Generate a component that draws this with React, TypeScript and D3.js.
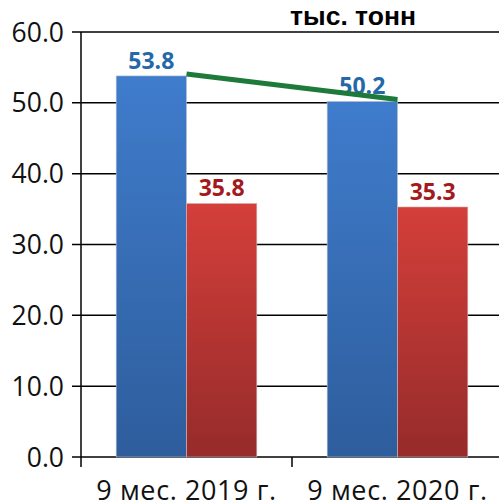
import React from "react";
import * as d3 from "d3";

const categories = ["9 мес. 2019 г.", "9 мес. 2020 г."];
const seriesNames = ["s1", "s2"];
const blueValues = [53.8, 50.2];
const redValues = [35.8, 35.3];
const yTicks = [0, 10, 20, 30, 40, 50, 60];
const unitLabel = "тыс. тонн";

const W = 499;
const H = 504;

export default function App() {
  const y = d3.scaleLinear().domain([0, 60]).range([457, 32]);
  const x = d3.scaleBand<string>().domain(categories).range([81, 503]).paddingInner(0).paddingOuter(0);
  const xi = d3.scaleBand<string>().domain(seriesNames).range([0, x.bandwidth()]).paddingInner(0).paddingOuter(0.5);
  const bw = xi.bandwidth();
  const font = "'Open Sans', 'DejaVu Sans', sans-serif";

  const linePts: [number, number][] = categories.map((c, i) => [
    (x(c) as number) + (xi("s1") as number) + bw,
    y(blueValues[i]) - 2,
  ]);
  const line = d3.line();

  return (
    <svg width={W} height={H} style={{ position: "absolute", left: 0, top: 0, background: "#fff" }}>
      <defs>
        <linearGradient id="gBlue" x1="0" y1="0" x2="0" y2="1">
          <stop offset="0" stopColor="#3f7ccc" />
          <stop offset="1" stopColor="#2e5d9c" />
        </linearGradient>
        <linearGradient id="gRed" x1="0" y1="0" x2="0" y2="1">
          <stop offset="0" stopColor="#d43f3a" />
          <stop offset="1" stopColor="#952b2a" />
        </linearGradient>
      </defs>
      {yTicks.map((t) => (
        <g key={t}>
          <line x1={72} x2={W} y1={y(t)} y2={y(t)} stroke="#000" strokeWidth={1.5} />
          <text x={64} y={y(t)} dy="0.36em" textAnchor="end" fontFamily={font} fontSize={26.5} fill="#111">
            {d3.format(".1f")(t)}
          </text>
        </g>
      ))}
      <line x1={81} x2={81} y1={y(60)} y2={467} stroke="#000" strokeWidth={1.5} />
      {categories.slice(1).map((c) => (
        <line key={c} x1={x(c) as number} x2={x(c) as number} y1={y(0)} y2={467} stroke="#000" strokeWidth={1.5} />
      ))}
      {categories.map((c, i) => {
        const x0 = x(c) as number;
        const bx = x0 + (xi("s1") as number);
        const rx = x0 + (xi("s2") as number);
        return (
          <g key={c}>
            <rect x={bx} y={y(blueValues[i])} width={bw} height={y(0) - y(blueValues[i])} fill="url(#gBlue)" stroke="#b8c4d6" strokeWidth={0.6} />
            <rect x={rx} y={y(redValues[i])} width={bw} height={y(0) - y(redValues[i])} fill="url(#gRed)" stroke="#d8b8b8" strokeWidth={0.6} />
            <text x={bx + bw / 2} y={y(blueValues[i]) - 7} textAnchor="middle" fontFamily={font} fontWeight={700} fontSize={23} fill="#2568a8">
              {d3.format(".1f")(blueValues[i])}
            </text>
            <text x={rx + bw / 2} y={y(redValues[i]) - 7} textAnchor="middle" fontFamily={font} fontWeight={700} fontSize={23} fill="#a3191c">
              {d3.format(".1f")(redValues[i])}
            </text>
            <text x={x0 + x.bandwidth() / 2} y={500} textAnchor="middle" fontFamily={font} fontSize={27} letterSpacing={0.6} fill="#111">
              {c}
            </text>
          </g>
        );
      })}
      <path d={line(linePts) as string} stroke="#1d7a3a" strokeWidth={5} fill="none" />
      <text x={353} y={25} textAnchor="middle" fontFamily="'Liberation Sans', Arial, sans-serif" fontWeight={700} fontSize={26.5} fill="#000">
        {unitLabel}
      </text>
    </svg>
  );
}
